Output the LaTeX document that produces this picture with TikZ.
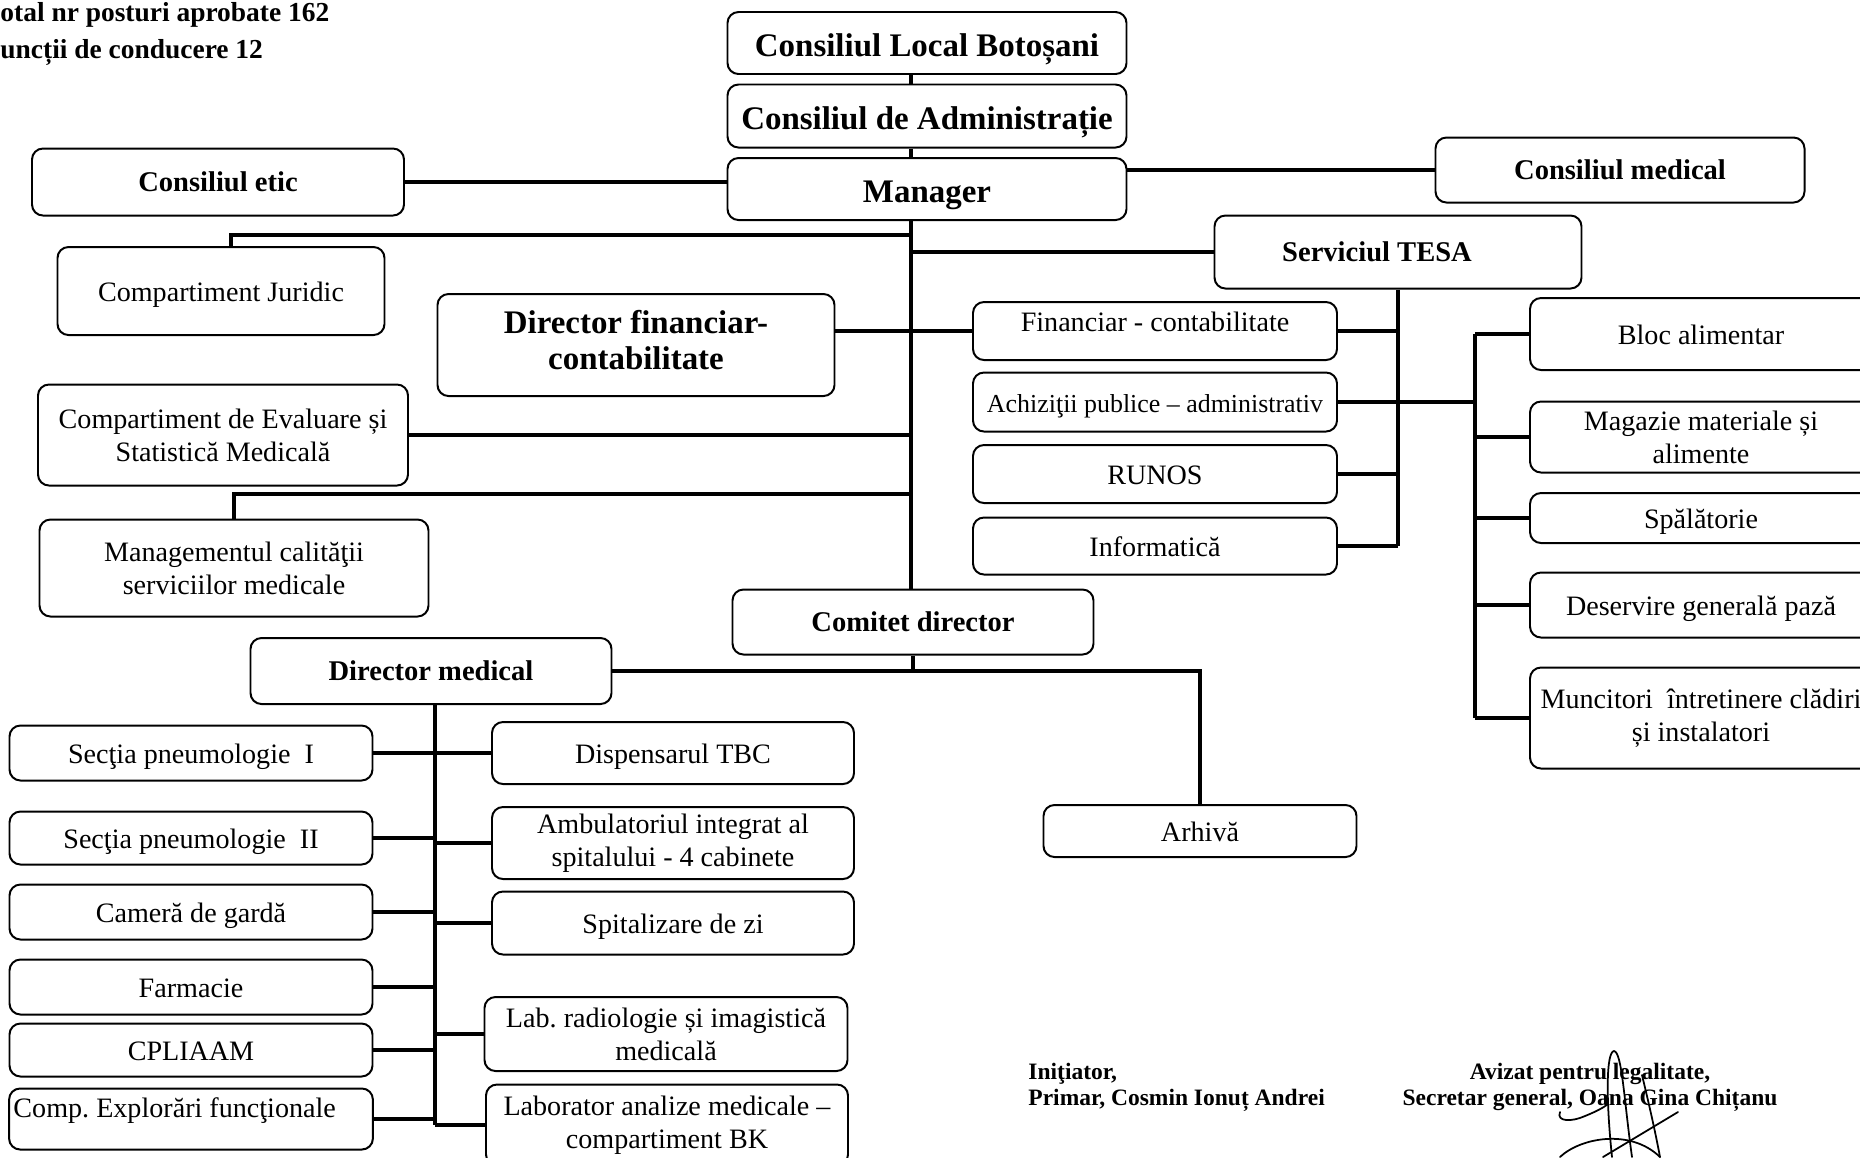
\documentclass[tikz,border=0pt]{standalone}
\usepackage{fontspec}
\setmainfont{Liberation Serif}
\usetikzlibrary{calc, positioning}
\newlength{\pxu}
\setlength{\pxu}{0.016cm}

\begin{document}
\frenchspacing
\begin{tikzpicture}[x=0.016cm, y=-0.016cm,
  dept/.style={draw, line width=0.9pt, rounded corners=5pt, align=center,
               inner sep=2pt, font=\fontsize{12.8}{15}\selectfont},
  single/.style={text height=11pt, text depth=1pt},
  chief/.style={dept, font=\fontsize{13}{15.5}\selectfont\bfseries},
  council/.style={dept, font=\fontsize{15}{18}\selectfont\bfseries},
  link/.style={line width=2pt},
  head/.style={font=\fontsize{12.5}{15}\selectfont\bfseries, inner sep=0pt, anchor=base west},
  sign/.style={font=\fontsize{10.7}{12}\selectfont\bfseries, inner sep=0pt},
  sig/.style={line width=0.8pt, line cap=round},
]
\useasboundingbox (0,0) rectangle (1860,1157);
\clip (0,0) rectangle (1860,1157);

\node[head] (tot) at (0,21) {otal nr posturi aprobate 162};
\node[head] (fcd) at (0,58) {uncții de conducere 12};

% conducere
\node[council, text height=12.5pt, text depth=0.5pt, minimum width=399\pxu, minimum height=62\pxu] (clb) at (927,43) {Consiliul Local Botoșani};
\node[council, text height=12.5pt, text depth=0.5pt, minimum width=399\pxu, minimum height=63\pxu] (cda) at (927,116) {Consiliul de Administrație};
\node[council, text height=12.5pt, text depth=0.5pt, minimum width=399\pxu, minimum height=62\pxu] (mgr) at (927,189) {Manager};
\node[chief, minimum width=372\pxu, minimum height=67\pxu] (etic) at (218,182) {Consiliul etic};
\node[chief, minimum width=369\pxu, minimum height=65\pxu] (cmed) at (1620,170) {Consiliul medical};
\node[chief, minimum width=367\pxu, minimum height=73\pxu] (tesa) at (1398,252) {\hspace*{-42\pxu}Serviciul TESA};

\coordinate (tk) at (911,0);
\coordinate (jb) at (911,235);
\coordinate (qb) at (911,494);
\coordinate (sb) at (1475,0);
\coordinate (mb) at (435,0);

% stanga
\node[dept, single, minimum width=327\pxu, minimum height=88\pxu] (jur) at (221,291) {Compartiment Juridic};
\node[council, font=\fontsize{15}{16.7}\selectfont\bfseries, text depth=4.8pt, minimum width=397\pxu, minimum height=102\pxu] (dfin) at (636,345) {Director financiar-\\contabilitate};
\node[dept, minimum width=370\pxu, minimum height=101\pxu] (ces) at (223,435) {Compartiment de Evaluare și\\Statistică Medicală};
\node[dept, minimum width=389\pxu, minimum height=97\pxu] (mcal) at (234,568) {Managementul calităţii\\serviciilor medicale};

% TESA
\node[dept, text height=9pt, text depth=9pt, minimum width=364\pxu, minimum height=58\pxu] (fc) at (1155,331) {Financiar - contabilitate};
\node[dept, single, minimum width=364\pxu, minimum height=59\pxu, font=\fontsize{11.8}{14}\selectfont] (ach) at (1155,402) {Achiziţii publice – administrativ};
\node[dept, single, minimum width=364\pxu, minimum height=58\pxu] (runos) at (1155,474) {RUNOS};
\node[dept, single, minimum width=364\pxu, minimum height=57\pxu] (info) at (1155,546) {Informatică};

\node[dept, single, minimum width=342\pxu, minimum height=72\pxu] (bloc) at (1701,334) {Bloc alimentar};
\node[dept, minimum width=342\pxu, minimum height=71\pxu] (mag) at (1701,437) {Magazie materiale și\\alimente};
\node[dept, single, minimum width=342\pxu, minimum height=50\pxu] (spal) at (1701,518) {Spălătorie};
\node[dept, single, minimum width=342\pxu, minimum height=65\pxu] (dgp) at (1701,605) {Deservire generală pază};
\node[dept, minimum width=342\pxu, minimum height=101\pxu] (munc) at (1701,718) {Muncitori\ \ întretinere clădiri\\și instalatori};

% comitet
\node[chief, minimum width=361\pxu, minimum height=65\pxu] (cdir) at (913,622) {Comitet director};
\node[chief, minimum width=361\pxu, minimum height=66\pxu] (dmed) at (431,671) {Director medical};
\node[dept, single, minimum width=313\pxu, minimum height=52\pxu] (arh) at (1200,831) {Arhivă};

% medical
\node[dept, single, minimum width=363\pxu, minimum height=55\pxu] (sp1) at (191,753) {Secţia pneumologie\ \ I};
\node[dept, single, minimum width=363\pxu, minimum height=53\pxu] (sp2) at (191,838) {Secţia pneumologie\ \ II};
\node[dept, single, minimum width=363\pxu, minimum height=55\pxu] (cg) at (191,912) {Cameră de gardă};
\node[dept, single, minimum width=363\pxu, minimum height=55\pxu] (farm) at (191,987) {Farmacie};
\node[dept, single, minimum width=363\pxu, minimum height=53\pxu] (cpl) at (191,1050) {CPLIAAM};
\node[dept, minimum width=363\pxu, minimum height=61\pxu, text width=355\pxu, align=flush left, text depth=10pt] (cef) at (191,1119) {Comp. Explorări funcţionale};

\node[dept, single, minimum width=362\pxu, minimum height=62\pxu] (disp) at (673,753) {Dispensarul TBC};
\node[dept, minimum width=362\pxu, minimum height=72\pxu] (amb) at (673,843) {Ambulatoriul integrat al\\spitalului - 4 cabinete};
\node[dept, single, minimum width=362\pxu, minimum height=63\pxu] (sz) at (673,923) {Spitalizare de zi};
\node[dept, minimum width=363\pxu, minimum height=74\pxu] (lrad) at (666,1034) {Lab. radiologie și imagistică\\medicală};
\node[dept, minimum width=362\pxu, minimum height=81\pxu] (lam) at (667,1125) {Laborator analize medicale –\\compartiment BK};

% semnaturi
\node[sign, anchor=base west] (ini) at (1028,1079) {Iniţiator,};
\node[sign, anchor=base west] (pri) at (1028,1105) {Primar, Cosmin Ionuț Andrei};
\node[sign, anchor=base] (avz) at (1590,1079) {Avizat pentru legalitate,};
\node[sign, anchor=base] (sec) at (1590,1105) {Secretar general, Oana Gina Chițanu};

% legaturi
\draw[link] (clb.south -| tk) -- (cda.north -| tk);
\draw[link] (cda.south -| tk) -- (mgr.north -| tk);
\draw[link] (mgr.south -| tk) -- (cdir.north -| tk);
\draw[link] (etic.east) -- (etic.east -| mgr.west);
\draw[link] (cmed.west -| mgr.east) -- (cmed.west);
\draw[link] (jb) -| ([xshift=10\pxu]jur.north);
\draw[link] (tk |- tesa.west) -- (tesa.west);
\draw[link] (dfin.east |- fc.west) -- (fc.west);
\draw[link] (ces.east) -- (tk |- ces.east);
\draw[link] (qb) -| (mcal.north);

\draw[link] (tesa.south) -- (tesa.south |- info.east);
\foreach \n in {fc,ach,runos,info}
  \draw[link] (\n.east) -- (tesa.south |- \n.east);
\draw[link] (tesa.south |- ach.east) -- (sb |- ach.east);
\draw[link] (sb |- bloc.west) -- (sb |- munc.west);
\foreach \n in {bloc,mag,spal,dgp,munc}
  \draw[link] (sb |- \n.west) -- (\n.west);

\draw[link] (cdir.south) -- (cdir.south |- dmed.east);
\draw[link] (dmed.east) -| (arh.north);

\draw[link] (mb |- dmed.south) -- (mb |- lam.west);
\foreach \n in {sp1,sp2,cg,farm,cpl,cef}
  \draw[link] (\n.east) -- (mb |- \n.east);
\foreach \n in {disp,amb,sz,lrad,lam}
  \draw[link] (mb |- \n.west) -- (\n.west);

% semnatura
\draw[sig] (1612,1157) .. controls (1606,1100) and (1606,1052) .. (1614,1051) .. controls (1622,1052) and (1624,1100) .. (1632,1157);
\draw[sig] (1642,1075) .. controls (1648,1100) and (1655,1130) .. (1660,1157);
\draw[sig] (1560,1112) .. controls (1556,1122) and (1572,1122) .. (1585,1116) .. controls (1595,1112) and (1603,1108) .. (1608,1104);
\draw[sig] (1678,1112) -- (1603,1157);
\draw[sig] (1560,1157) .. controls (1580,1138) and (1630,1128) .. (1660,1157);
\end{tikzpicture}
\end{document}
